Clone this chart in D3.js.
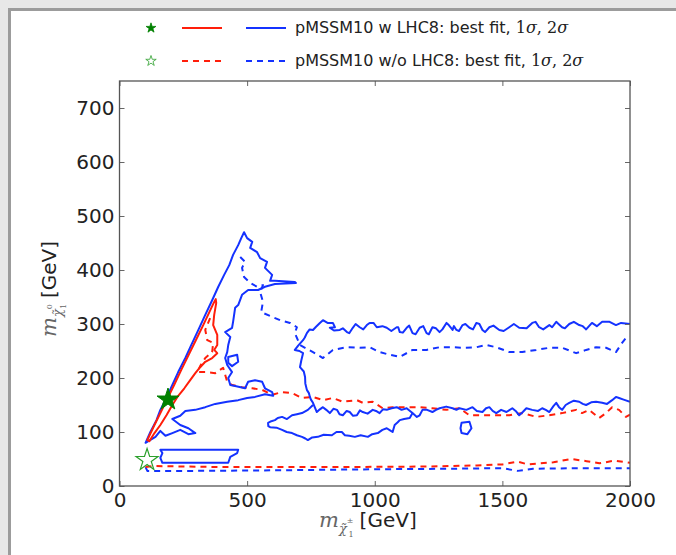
<!DOCTYPE html>
<html>
<head>
<meta charset="utf-8">
<script src="https://cdnjs.cloudflare.com/ajax/libs/d3/7.8.5/d3.min.js"></script>
<style>
  body { margin: 0; background: #fff; position: relative; }
  svg { display: block; }
  .band-top { position: absolute; left: 0; top: 0; width: 676px; height: 8px;
              background: #e8e8e8; border-bottom: 3px solid #9c9c9c; }
  .band-left { position: absolute; left: 0; top: 8px; width: 8px; height: 547px;
               background: #e8e8e8; border-right: 3px solid #9c9c9c; }
</style>
</head>
<body>
<div id="chart"></div>
<div class="band-top"></div>
<div class="band-left"></div>
<script>

// axis ticks
const xTicks = [0, 500, 1000, 1500, 2000];
const yTicks = [0, 100, 200, 300, 400, 500, 600, 700];

// best fit points  [m_chargino, m_neutralino]
const bestFitWith = [190, 160];
const bestFitWithout = [108, 48];

// pMSSM10 w LHC8, 1 sigma (closed)
const redSolid = [
  [109,85],[137,113],[162,137],[185,159],[214,187],[242,215],[271,243],[299,270],
  [328,298],[352,322],[369,339],[377,346],[379,339],[371,317],[367,298],[383,280],
  [383,261],[371,252],[383,246],[363,237],[336,230],[316,220],[297,209],[277,196],
  [254,181],[230,167],[207,150],[184,131],[160,113],[137,98],[117,83]
];

// pMSSM10 w LHC8, 2 sigma (closed pieces and open pieces)
const blueTriangle = [
  [102,80],[121,100],[145,122],[160,141],[184,163],[207,187],[230,211],[258,237],
  [281,261],[309,289],[336,317],[363,344],[387,369],[410,391],[430,409],[445,428],
  [465,446],[477,459],[488,470],
  [500,459],[520,452],[512,441],[539,433],[551,422],[578,415],[570,404],[598,391],
  [590,380],[609,380],[687,378],[691,376],[609,374],[570,369],[543,363],[504,363],
  [480,354],[465,335],[453,330],[445,304],[441,293],[414,285],[434,276],[426,261],
  [422,248],[414,237],[422,224],[441,211],[426,200],[434,187],[453,185],[492,181],
  [504,193],[531,196],[559,193],[570,181],[598,174],[602,167],
  [570,170],[531,165],[500,163],[465,159],[422,156],[375,152],[336,146],[297,141],
  [258,139],[238,130],[207,124],[238,113],[270,107],[297,98],[270,96],[238,104],
  [207,98],[180,93],[160,102],[141,91],[113,83]
];
const blueLoop = [[426,239],[461,243],[465,230],[441,222],[426,228]];
const blueBand = [
  [2000,300],[1965,302],[1945,298],[1920,304],[1891,304],[1870,296],[1851,302],
  [1828,290],[1815,296],[1801,298],[1780,304],[1762,300],[1745,292],[1734,294],
  [1720,300],[1711,304],[1695,294],[1684,298],[1660,290],[1644,294],[1630,304],
  [1617,302],[1595,292],[1566,293],[1545,300],[1527,294],[1505,287],[1488,289],
  [1465,297],[1449,294],[1432,285],[1422,289],[1410,300],[1398,302],[1385,290],
  [1371,293],[1355,300],[1344,298],[1330,287],[1320,289],[1310,296],[1305,289],
  [1290,298],[1281,302],[1265,290],[1254,285],[1240,292],[1226,294],[1212,281],
  [1203,283],[1190,296],[1176,293],[1160,281],[1148,283],[1135,297],[1125,293],
  [1110,284],[1098,285],[1092,294],[1086,294],[1065,287],[1047,293],[1030,296],
  [1008,294],[995,302],[980,302],[969,298],[955,290],[941,294],[925,300],[914,293],
  [900,283],[891,285],[875,292],[863,289],[840,288],[824,293],[844,294],[836,302],
  [815,302],[797,307],[785,302],[770,295],[758,289],[745,290],[734,283],[726,275],
  [719,270],[700,260],[687,252],[705,250],[719,246],[712,232],[707,220],[722,212],
  [727,202],[728,190],[734,178],[742,172],[746,165],[750,160],[758,154],
  [773,137],[785,142],[797,146],[810,141],[824,135],[838,143],[852,141],[862,133],
  [875,131],[890,139],[902,137],[915,130],[930,131],[942,140],[953,137],[972,134],
  [992,141],[1005,139],[1019,135],[1032,142],[1047,141],[1066,144],[1086,146],
  [1105,141],[1125,144],[1138,139],[1148,135],[1165,128],[1176,131],[1187,141],
  [1205,141],[1226,137],[1240,141],[1254,144],[1280,147],[1305,144],[1320,141],
  [1332,144],[1359,141],[1383,146],[1400,139],[1422,137],[1436,144],[1449,146],
  [1462,139],[1476,135],[1495,141],[1516,137],[1539,144],[1552,139],[1566,131],
  [1580,137],[1594,144],[1617,141],[1640,139],[1656,144],[1670,141],[1684,137],
  [1700,148],[1711,154],[1722,146],[1734,141],[1748,150],[1762,154],[1780,158],
  [1801,156],[1815,152],[1828,150],[1848,155],[1867,156],[1891,154],[1910,152],
  [1930,159],[1945,165],[1957,163],[1975,160],[2000,156]
];
const blueSliver = [
  [758,150],[738,141],[715,135],[695,133],[676,131],[656,124],[637,128],[620,126],
  [609,122],[595,120],[582,117],[583,111],[590,109],[615,108],[637,104],[655,100],
  [676,98],[695,94],[715,91],[728,88],[738,85],[755,90],[777,91],[800,95],[832,94],
  [850,100],[871,100],[883,94],[900,93],[922,91],[945,94],[973,91],[990,96],
  [1012,98],[1030,104],[1047,107],[1060,103],[1070,100],[1078,113],[1090,118],
  [1098,122],[1115,124],[1137,126],[1148,135]
];
const blueIsland = [[160,67],[465,67],[461,61],[434,54],[426,43],[168,43],[160,52],[168,61]];
const blueBlob = [[1340,117],[1371,119],[1379,107],[1363,96],[1340,98],[1336,107]];

// pMSSM10 w/o LHC8, 1 sigma
const redDashedUpper = [
  [355,311],[336,289],[344,270],[367,265],[363,248],[336,237],[316,222],[305,211],
  [336,211],[375,209],[406,219],[414,206],[422,193],[441,187],[480,183],[520,181],
  [559,178],[598,169],[637,174],[676,172],[715,163],[758,165],[797,159],[836,163],
  [875,156],[930,159],[953,154],[992,156],[1031,144],[1070,146],[1125,146],
  [1176,146],[1226,144],[1281,141],[1332,144],[1371,131],[1422,131],[1476,131],
  [1527,131],[1578,135],[1633,128],[1684,131],[1734,135],[1789,141],[1812,135],
  [1840,141],[1879,126],[1906,135],[1930,146],[1957,141],[1984,128],[2000,132]
];
const redDashedLower = [
  [102,35],[130,37],[400,35],[800,35],[1200,36],[1400,38],[1500,40],[1560,45],
  [1600,40],[1700,44],[1770,50],[1830,46],[1880,42],[1940,47],[2000,43]
];

// pMSSM10 w/o LHC8, 2 sigma
const blueDashedUpper = [
  [473,424],[492,415],[480,404],[488,387],[512,376],[539,369],[562,372],[551,359],
  [562,341],[555,322],[590,315],[629,307],[668,302],[695,294],[687,283],[707,261],
  [758,248],[797,237],[836,252],[891,257],[941,256],[980,257],[1019,248],[1059,243],
  [1098,239],[1148,252],[1203,252],[1254,257],[1305,257],[1344,256],[1398,257],
  [1437,261],[1476,257],[1527,248],[1578,248],[1633,252],[1684,256],[1734,256],
  [1789,246],[1828,252],[1867,257],[1906,256],[1945,248],[1969,265],[1984,274],[2000,276]
];
const blueDashedLower = [
  [102,35],[109,28],[300,28],[600,29],[1000,31],[1300,32],[1500,33],[1560,28],
  [1620,32],[1800,33],[2000,33]
];

const legendRows = [
  "pMSSM10 w LHC8: best fit, ",
  "pMSSM10 w/o LHC8: best fit, "
];

const RED = "#ff1e0a", BLUE = "#1432ff", GREEN = "#008000";
const SANS = "'DejaVu Sans', sans-serif", SERIF = "'DejaVu Serif', serif";

const width = 676, height = 555;
const margin = { top: 81, left: 119.5, right: 46, bottom: 69 };
const innerWidth = width - margin.left - margin.right;
const innerHeight = height - margin.top - margin.bottom;

const svg = d3.select("#chart").append("svg")
  .attr("width", width).attr("height", height)
  .attr("viewBox", `0 0 ${width} ${height}`);

const x = d3.scaleLinear().domain([0, 2000]).range([0, innerWidth]);
const y = d3.scaleLinear().domain([0, 750]).range([innerHeight, 0]);

const g = svg.append("g").attr("transform", `translate(${margin.left},${margin.top})`);

svg.append("defs").append("clipPath").attr("id", "plotclip")
  .append("rect").attr("width", innerWidth).attr("height", innerHeight);

const plot = g.append("g").attr("clip-path", "url(#plotclip)");

const line = d3.line().x(d => x(d[0])).y(d => y(d[1]));
const closed = d3.line().x(d => x(d[0])).y(d => y(d[1])).curve(d3.curveLinearClosed);

function draw(data, color, dashed, isClosed) {
  plot.append("path")
    .attr("d", (isClosed ? closed : line)(data))
    .attr("fill", "none")
    .attr("stroke", color)
    .attr("stroke-width", 2)
    .attr("stroke-linejoin", "round")
    .attr("stroke-dasharray", dashed ? "6,5" : null);
}

// 2 sigma w/o LHC8
draw(blueDashedUpper, BLUE, true, false);
draw(blueDashedLower, BLUE, true, false);
// 1 sigma w/o LHC8
draw(redDashedUpper, RED, true, false);
draw(redDashedLower, RED, true, false);
// 2 sigma w LHC8
draw(blueTriangle, BLUE, false, true);
draw(blueLoop, BLUE, false, true);
draw(blueBand, BLUE, false, false);
draw(blueSliver, BLUE, false, false);
draw(blueIsland, BLUE, false, true);
draw(blueBlob, BLUE, false, true);
// 1 sigma w LHC8
draw(redSolid, RED, false, true);

// best fit stars
const star = d3.symbol().type(d3.symbolStar);
plot.append("path")
  .attr("d", star.size(150)())
  .attr("transform", `translate(${x(bestFitWith[0])},${y(bestFitWith[1])})`)
  .attr("fill", GREEN).attr("stroke", GREEN).attr("stroke-width", 1);
plot.append("path")
  .attr("d", star.size(150)())
  .attr("transform", `translate(${x(bestFitWithout[0])},${y(bestFitWithout[1])})`)
  .attr("fill", "none").attr("stroke", "#2ca02c").attr("stroke-width", 1.2);

// axes, ticks inward on all sides
const tickFont = g => g.selectAll("text")
  .attr("font-family", SANS)
  .attr("font-size", 20).attr("fill", "#222");

g.append("g").attr("transform", `translate(0,${innerHeight})`)
  .call(d3.axisBottom(x).tickValues(xTicks).tickFormat(d3.format("d"))
    .tickSizeInner(-5).tickSizeOuter(0).tickPadding(7))
  .call(tickFont);
g.append("g")
  .call(d3.axisLeft(y).tickValues(yTicks).tickFormat(d3.format("d"))
    .tickSizeInner(-5).tickSizeOuter(0).tickPadding(5))
  .call(tickFont);
g.append("g")
  .call(d3.axisTop(x).tickValues(xTicks).tickSizeInner(-5).tickSizeOuter(0))
  .call(a => a.selectAll("text").remove());
g.append("g").attr("transform", `translate(${innerWidth},0)`)
  .call(d3.axisRight(y).tickValues(yTicks).tickSizeInner(-5).tickSizeOuter(0))
  .call(a => a.selectAll("text").remove());

g.selectAll(".domain").remove();
g.selectAll(".tick line").attr("stroke", "#666");

g.append("rect")
  .attr("width", innerWidth).attr("height", innerHeight)
  .attr("fill", "none").attr("stroke", "#555").attr("stroke-width", 1.3);

// axis labels: m_chi [GeV]
function massLabel(parent, sup) {
  const t = parent.append("text").attr("x", 0).attr("y", 0)
    .attr("text-anchor", "start").attr("font-family", SERIF).attr("fill", "#666");
  t.append("tspan").attr("font-style", "italic").attr("font-size", 21).text("m");
  t.append("tspan").attr("font-style", "italic").attr("font-size", 13).attr("dy", 6).text("\u03c7\u0303");
  t.append("tspan").attr("font-size", 8).attr("dy", -10).text(sup);
  t.append("tspan").attr("font-size", 8).attr("dx", -5).attr("dy", 14).text("1");
  t.append("tspan").attr("font-family", SANS).attr("font-size", 20).attr("fill", "#222")
    .attr("dx", 6).attr("dy", -10).text("[GeV]");
}

massLabel(svg.append("g").attr("transform", "translate(319,527)"), "\u00b1");
massLabel(svg.append("g").attr("transform", "translate(56,337) rotate(-90)"), "0");

// legend
const legend = svg.append("g");
legendRows.forEach((label, i) => {
  const ly = 28 + i * 33;
  legend.append("path")
    .attr("d", star.size(i === 0 ? 30 : 34)())
    .attr("transform", `translate(151,${ly})`)
    .attr("fill", i === 0 ? GREEN : "none")
    .attr("stroke", i === 0 ? GREEN : "#2ca02c").attr("stroke-width", 0.8);
  legend.append("line").attr("x1", 182).attr("x2", 222).attr("y1", ly).attr("y2", ly)
    .attr("stroke", RED).attr("stroke-width", 2).attr("stroke-dasharray", i ? "6,5" : null);
  legend.append("line").attr("x1", 246).attr("x2", 286).attr("y1", ly).attr("y2", ly)
    .attr("stroke", BLUE).attr("stroke-width", 2).attr("stroke-dasharray", i ? "6,5" : null);
  const t = legend.append("text").attr("x", 295).attr("y", ly + 5)
    .attr("text-anchor", "start").attr("font-family", SANS)
    .attr("font-size", 16).attr("fill", "#222");
  t.append("tspan").text(label);
  t.append("tspan").attr("font-family", SERIF).text("1");
  t.append("tspan").attr("font-family", SERIF).attr("font-style", "italic").text("\u03c3");
  t.append("tspan").attr("font-family", SERIF).text(", 2");
  t.append("tspan").attr("font-family", SERIF).attr("font-style", "italic").text("\u03c3");
});

</script>
</body>
</html>
